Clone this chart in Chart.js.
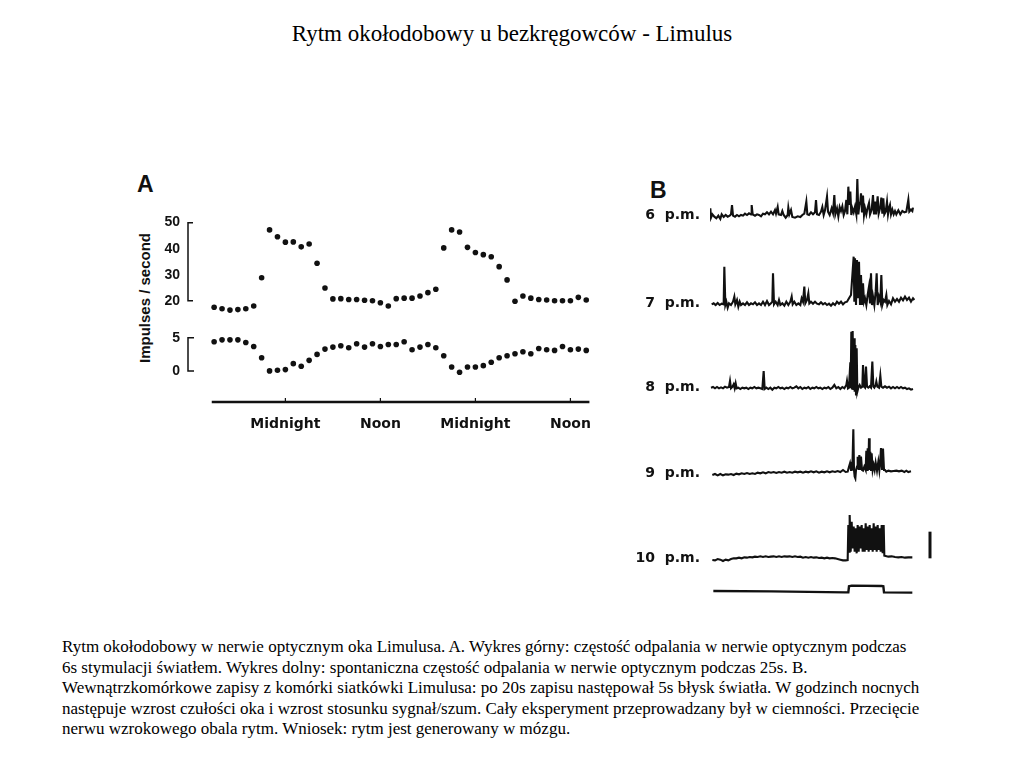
<!DOCTYPE html>
<html>
<head>
<meta charset="utf-8">
<script src="https://cdn.jsdelivr.net/npm/chart.js@4.4.0/dist/chart.umd.min.js"></script>
<style>
body{margin:0;width:1024px;height:768px;background:#fff;position:relative;overflow:hidden;font-family:'Liberation Serif','Times New Roman',serif;color:#000;}
#title{position:absolute;top:21px;left:0;width:1024px;text-align:center;font-size:23px;}
.lbl{position:absolute;font-family:'Liberation Sans',Arial,sans-serif;font-weight:bold;color:#111;white-space:nowrap;}
#ytitle{left:144px;top:298px;font-size:15px;transform:translate(-50%,-50%) rotate(-90deg);}
#caption{position:absolute;left:62px;top:637px;font-size:17px;line-height:20.5px;white-space:nowrap;}
#chartA{position:absolute;left:130px;top:205px;}
#chartB{position:absolute;left:630px;top:175px;}
</style>
</head>
<body>
<div id="title">Rytm okołodobowy u bezkręgowców - Limulus</div>
<div class="lbl" style="left:137px;top:171px;font-size:23px;">A</div>
<div class="lbl" style="left:650px;top:177px;font-size:23px;">B</div>
<div class="lbl" id="ytitle">Impulses / second</div>
<canvas id="chartA" width="470" height="235"></canvas>
<canvas id="chartB" width="310" height="425"></canvas>
<div id="caption">Rytm okołodobowy w nerwie optycznym oka Limulusa. A. Wykres górny: częstość odpalania w nerwie optycznym podczas<br>6s stymulacji światłem. Wykres dolny: spontaniczna częstość odpalania w nerwie optycznym podczas 25s. B.<br>Wewnątrzkomórkowe zapisy z komórki siatkówki Limulusa: po 20s zapisu następował 5s błysk światła. W godzinch nocnych<br>następuje wzrost czułości oka i wzrost stosunku sygnał/szum. Cały eksperyment przeprowadzany był w ciemności. Przecięcie<br>nerwu wzrokowego obala rytm. Wniosek: rytm jest generowany w mózgu.</div>
<script>
// panel A: hourly samples, starting 3 p.m.
const hours = [15,16,17,18,19,20,21,22,23,24,25,26,27,28,29,30,31,32,33,34,35,36,37,38,
               39,40,41,42,43,44,45,46,47,48,49,50,51,52,53,54,55,56,57,58,59,60,61,62];
const lightResp = [17.5,16.9,16.4,16.6,16.9,18.0,28.8,47.2,44.6,42.5,42.6,40.7,41.8,34.4,24.9,20.7,
                   20.8,20.5,20.5,20.2,20.0,19.2,18.0,20.8,21.0,21.0,21.8,23.1,24.4,40.3,47.2,46.4,
                   40.5,38.5,37.7,36.9,33.1,28.0,19.8,21.8,21.0,20.5,20.3,20.0,20.0,20.0,21.3,20.3];
const darkResp = [4.4,4.7,4.7,4.7,4.3,3.7,2.0,0.0,0.1,0.2,1.1,0.7,1.6,2.5,3.3,3.6,
                  3.8,3.5,4.1,3.6,4.1,3.7,4.0,4.0,4.4,3.2,3.6,4.0,3.5,2.3,0.6,-0.2,
                  0.6,0.6,0.8,1.3,2.0,2.3,2.6,2.9,2.6,3.4,3.2,3.1,3.7,3.2,3.3,3.1];
const timeTicks = [24,36,48,60];
const timeLabels = ['Midnight','Noon','Midnight','Noon'];
const upperTicks = [50,40,30,20];
const lowerTicks = [5,0];

// panel B: recordings, [time, amplitude] vertices
const trace6 = [[15,-8],[16,20],[18,-8],[22,2],[28,-5],[34,-10],[40,-2],[46,-12],[50,2],[56,-6],[62,0],[68,-5],[74,-2],[78,2],[81,30],[84,-2],[90,-5],[96,0],[102,-4],[108,0],[114,-2],[120,4],[126,0],[132,5],[138,2],[140,30],[143,2],[150,-2],[156,2],[162,0],[168,-4],[174,4],[180,2],[186,8],[192,2],[198,10],[204,2],[210,15],[213,4],[218,24],[221,2],[228,0],[232,12],[236,0],[242,-8],[248,0],[250,22],[253,2],[258,15],[262,-6],[270,-8],[278,-4],[286,-6],[292,0],[298,4],[304,40],[307,2],[312,0],[318,8],[324,2],[330,8],[333,45],[336,2],[342,0],[348,10],[352,24],[356,0],[360,14],[366,55],[369,10],[374,0],[380,20],[384,6],[388,60],[391,2],[396,20],[400,-4],[404,24],[408,12],[412,26],[416,0],[420,12],[424,45],[427,2],[430,85],[433,30],[436,70],[439,0],[442,20],[446,8],[450,25],[454,2],[457,108],[460,2],[463,30],[466,40],[468,65],[471,8],[474,58],[477,0],[480,20],[484,2],[488,22],[492,36],[495,2],[500,16],[504,60],[507,2],[510,40],[513,2],[518,56],[521,4],[526,24],[529,52],[532,4],[535,50],[538,2],[542,10],[546,40],[549,2],[552,20],[555,30],[558,2],[562,16],[566,2],[570,12],[574,2],[580,14],[586,2],[592,12],[598,8],[604,10],[610,46],[613,10],[618,16],[622,12],[624,22]];
const trace7 = [[20,-3],[26,0],[32,-5],[38,1],[44,-5],[50,-1],[56,-3],[58,110],[61,-5],[64,5],[68,-13],[72,0],[78,-5],[84,5],[88,20],[91,-3],[96,10],[100,-10],[104,5],[108,-5],[114,0],[120,-5],[126,3],[132,-5],[138,0],[144,-3],[150,3],[156,-5],[162,0],[168,-5],[174,5],[180,-5],[186,7],[192,-5],[198,0],[202,5],[204,90],[207,-3],[212,5],[218,-5],[222,10],[226,-5],[232,0],[238,-7],[244,5],[250,-5],[256,5],[260,20],[263,-3],[268,5],[274,-5],[280,0],[286,-5],[290,15],[294,5],[298,50],[301,0],[306,10],[310,30],[313,0],[318,5],[324,-1],[330,5],[336,-1],[342,-3],[348,3],[354,-3],[360,1],[366,-5],[372,-1],[378,-7],[384,0],[390,-5],[396,5],[402,-1],[408,5],[414,-3],[420,3],[426,5],[432,15],[438,25],[446,140],[448,5],[450,135],[453,-5],[456,130],[459,15],[462,125],[465,-5],[468,85],[471,-5],[474,60],[477,5],[480,15],[484,-5],[488,25],[492,50],[495,0],[498,90],[501,-5],[504,20],[508,-5],[512,35],[515,90],[518,-5],[522,20],[526,5],[529,85],[532,-5],[536,10],[540,5],[544,25],[547,-5],[552,7],[558,-3],[564,15],[570,5],[576,13],[582,5],[588,17],[594,9],[600,20],[606,10],[612,17],[618,5],[624,15],[628,10]];
const trace8 = [[18,0],[24,2],[30,-2],[36,2],[42,-2],[48,1],[54,-2],[60,3],[66,0],[72,2],[75,20],[78,-2],[82,2],[86,10],[89,-2],[92,13],[95,-2],[100,0],[106,-4],[112,0],[118,-2],[124,0],[130,-4],[136,0],[142,-2],[148,2],[154,-2],[160,0],[166,-2],[172,-4],[176,50],[179,-4],[184,0],[190,-4],[196,0],[202,-6],[208,0],[214,-2],[220,2],[226,-2],[232,0],[238,-4],[244,0],[250,-2],[256,2],[262,-2],[268,0],[274,4],[280,-2],[286,2],[292,-4],[298,0],[304,-2],[310,2],[316,-4],[322,0],[328,-2],[334,2],[340,-2],[346,0],[352,-4],[358,0],[364,-2],[370,2],[376,-4],[382,0],[388,8],[394,-2],[400,2],[406,-4],[412,2],[418,-2],[424,8],[426,20],[429,-2],[432,0],[436,76],[437,-2],[439,168],[441,-2],[443,170],[445,-7],[447,148],[449,-12],[451,128],[453,-20],[455,118],[457,-12],[460,0],[464,8],[468,0],[472,3],[474,68],[477,3],[480,0],[483,63],[486,3],[490,0],[494,4],[498,0],[502,78],[505,3],[508,0],[512,8],[514,18],[517,3],[522,0],[526,36],[529,3],[534,0],[540,4],[546,0],[552,3],[558,-2],[564,2],[570,-2],[576,2],[582,-2],[588,2],[594,-2],[600,0],[606,-4],[612,-2],[618,-6],[624,-4]];
const trace9 = [[22,-5],[30,-2],[38,-6],[46,-2],[54,-6],[62,-3],[70,-4],[78,-2],[86,-5],[94,-1],[102,-3],[110,0],[118,-2],[126,1],[134,-2],[142,0],[150,-2],[158,2],[166,0],[174,3],[182,0],[190,4],[198,2],[206,4],[214,1],[222,4],[230,2],[238,5],[246,2],[254,4],[262,2],[270,5],[278,3],[286,5],[294,2],[302,5],[310,3],[318,6],[326,3],[334,6],[342,2],[350,5],[358,3],[366,6],[374,3],[382,6],[390,4],[398,7],[406,4],[414,10],[422,4],[428,5],[432,20],[435,30],[438,10],[440,35],[442,10],[445,132],[447,10],[449,-10],[451,-15],[453,10],[456,20],[458,50],[461,10],[463,55],[466,10],[468,50],[471,10],[474,8],[478,20],[482,10],[484,68],[486,10],[488,75],[490,10],[492,105],[494,10],[496,65],[498,10],[500,60],[503,10],[506,25],[509,10],[512,32],[516,8],[520,35],[523,10],[526,42],[528,76],[531,10],[534,74],[537,10],[540,10],[544,5],[550,8],[558,6],[566,7],[574,8],[582,6],[590,8],[598,4],[604,8],[610,4],[618,6]];
const trace10 = [[22,-5],[30,-6],[38,-2],[46,-4],[54,-8],[62,-4],[70,-6],[78,-2],[86,0],[94,0],[102,2],[110,0],[118,3],[126,2],[134,4],[142,3],[150,5],[158,4],[166,6],[174,4],[182,6],[190,4],[198,5],[206,6],[214,4],[222,6],[230,4],[238,6],[246,5],[254,6],[262,4],[270,6],[278,4],[286,5],[294,2],[302,4],[310,2],[318,4],[326,2],[334,3],[342,1],[350,2],[358,0],[366,2],[374,0],[382,1],[390,0],[398,-2],[406,-4],[414,-6],[422,-6],[428,-5],[430,100],[432,20],[434,130],[437,20],[440,110],[443,30],[446,95],[449,20],[452,90],[455,15],[458,100],[461,20],[464,95],[467,30],[470,100],[473,20],[476,90],[479,20],[482,105],[485,25],[488,95],[491,20],[494,100],[497,25],[500,90],[503,20],[506,105],[509,25],[512,95],[515,20],[518,100],[521,25],[524,90],[527,20],[530,100],[533,15],[536,100],[538,8],[542,7],[550,5],[560,6],[570,4],[580,3],[590,4],[600,2],[610,3],[622,3]];
const stimulus = [[25,2],[200,1],[420,-2],[430,-2],[432,16],[440,18],[530,17],[535,16],[537,-2],[622,-3]];
const scaleBar = [[675,0],[675,80]];
const traceLabels = ['6  p.m.','7  p.m.','8  p.m.','9  p.m.','10  p.m.',''];

const ink = '#111';
const axisFontA = {family:"'Liberation Sans', Arial, sans-serif", weight:'bold', size:14};
const labelFontB = {family:"'DejaVu Sans', sans-serif", weight:'bold', size:14};

function fitY(w){
  return s => { s.width = w; s.paddingTop = 0; s.paddingBottom = 0; };
}

const axesA = {
  id:'axesA',
  afterDraw(chart){
    const {ctx, chartArea, scales:{x, yTop, yBot}} = chart;
    const bx = chartArea.left;
    ctx.save();
    ctx.strokeStyle = ink;
    ctx.lineWidth = 1.5;
    const t50 = yTop.getPixelForValue(50), t20 = yTop.getPixelForValue(20);
    ctx.beginPath();
    ctx.moveTo(bx+5, t50); ctx.lineTo(bx, t50); ctx.lineTo(bx, t20); ctx.lineTo(bx+5, t20);
    const b5 = yBot.getPixelForValue(5), b0 = yBot.getPixelForValue(0);
    ctx.moveTo(bx+6, b5); ctx.lineTo(bx, b5); ctx.lineTo(bx, b0); ctx.lineTo(bx+6, b0);
    ctx.stroke();
    ctx.lineWidth = 2.5;
    ctx.beginPath();
    ctx.moveTo(x.getPixelForValue(14.7), chartArea.bottom);
    ctx.lineTo(x.getPixelForValue(62.4), chartArea.bottom);
    ctx.stroke();
    ctx.lineWidth = 1.2;
    ctx.beginPath();
    timeTicks.forEach(v => {
      const px = x.getPixelForValue(v);
      ctx.moveTo(px, chartArea.bottom); ctx.lineTo(px, chartArea.bottom-4);
    });
    ctx.stroke();
    ctx.restore();
  }
};

new Chart(document.getElementById('chartA'), {
  type:'scatter',
  data:{datasets:[
    {data:hours.map((h,i)=>({x:h,y:lightResp[i]})), yAxisID:'yTop',
     pointRadius:2.8, pointBackgroundColor:ink, pointBorderWidth:0},
    {data:hours.map((h,i)=>({x:h,y:darkResp[i]})), yAxisID:'yBot',
     pointRadius:2.8, pointBackgroundColor:ink, pointBorderWidth:0}
  ]},
  options:{
    responsive:false, animation:false, events:[],
    layout:{padding:{top:8,right:9,left:0,bottom:0}},
    plugins:{legend:{display:false},tooltip:{enabled:false}},
    scales:{
      x:{type:'linear', min:11.7, max:62.6,
         grid:{display:false, drawTicks:false}, border:{display:false},
         afterBuildTicks:s=>{ s.ticks = timeTicks.map(v=>({value:v})); },
         ticks:{callback:(v,i)=>timeLabels[i], padding:14, color:ink, maxRotation:0, autoSkip:false,
                font:{family:"'DejaVu Sans', sans-serif", weight:'bold', size:14}},
         afterFit:s=>{ s.height = 38; s.paddingLeft = 0; s.paddingRight = 0; }},
      yTop:{type:'linear', position:'left', stack:'a', stackWeight:107, weight:2, min:12.6, max:53.7,
            grid:{display:false, drawTicks:false}, border:{display:false},
            afterBuildTicks:s=>{ s.ticks = upperTicks.map(v=>({value:v})); },
            ticks:{padding:8, color:ink, font:axisFontA}, afterFit:fitY(58)},
      yBot:{type:'linear', position:'left', stack:'a', stackWeight:82, weight:1, min:-4.7, max:7.7,
            grid:{display:false, drawTicks:false}, border:{display:false},
            afterBuildTicks:s=>{ s.ticks = lowerTicks.map(v=>({value:v})); },
            ticks:{padding:8, color:ink, font:axisFontA}, afterFit:fitY(58)}
    }
  },
  plugins:[axesA]
});

// panel B
const traces = [trace6, trace7, trace8, trace9, trace10, stimulus];
const axisIds = ['y6','y7','y8','y9','y10','yS'];
const axisRanges = [[-39,120],[-32,226],[-37,221],[-26,220],[-41,229],[-19,59]];

const scalesB = {
  x:{type:'linear', min:15, max:681, display:false}
};
axisIds.forEach((id,k)=>{
  scalesB[id] = {
    type:'linear', position:'left', stack:'b',
    stackWeight:axisRanges[k][1]-axisRanges[k][0], weight:6-k,
    min:axisRanges[k][0], max:axisRanges[k][1],
    grid:{display:false, drawTicks:false}, border:{display:false},
    afterBuildTicks:s=>{ s.ticks = [{value:0}]; },
    ticks:{display:traceLabels[k]!=='', callback:()=>traceLabels[k], padding:10, color:ink, font:labelFontB},
    afterFit:fitY(80)
  };
});

const datasetsB = traces.map((tr,k)=>({
  data:tr.map(([x,y])=>({x,y})), yAxisID:axisIds[k],
  borderColor:ink, borderWidth:k===5?2.4:2.1, pointRadius:0, tension:0, fill:false
}));
datasetsB.push({data:scaleBar.map(([x,y])=>({x,y})), yAxisID:'y10',
  borderColor:ink, borderWidth:3, pointRadius:0, fill:false});

new Chart(document.getElementById('chartB'), {
  type:'line',
  data:{datasets:datasetsB},
  options:{
    responsive:false, animation:false, events:[],
    layout:{padding:{top:0,right:8,left:0,bottom:2}},
    plugins:{legend:{display:false},tooltip:{enabled:false}},
    scales:scalesB
  }
});
</script>
</body>
</html>
